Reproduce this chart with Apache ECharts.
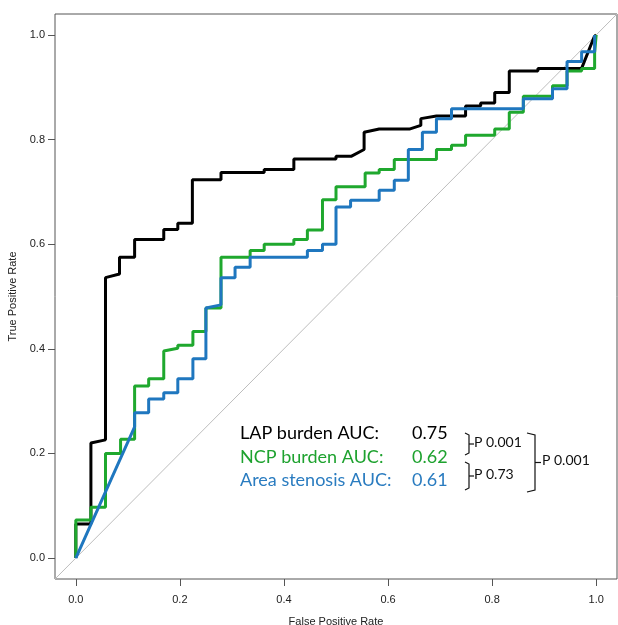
<!DOCTYPE html>
<html>
<head>
<meta charset="utf-8">
<script src="https://cdn.jsdelivr.net/npm/echarts@6/dist/echarts.min.js"></script>
<style>
  html, body { margin: 0; padding: 0; background: #fff; }
  #chart { width: 618px; height: 625px; }
</style>
</head>
<body>
<div id="chart"></div>
<script>
// ROC curve vertices (false positive rate, true positive rate)
const lapFpr = [0, 0, 0.029, 0.029, 0.057, 0.057, 0.084, 0.084, 0.113, 0.113, 0.169, 0.169, 0.196, 0.196, 0.224, 0.224, 0.279, 0.279, 0.362, 0.362, 0.419, 0.419, 0.500, 0.500, 0.529, 0.554, 0.554, 0.583, 0.641, 0.663, 0.663, 0.693, 0.749, 0.749, 0.778, 0.778, 0.805, 0.805, 0.833, 0.833, 0.888, 0.888, 0.972, 0.996, 1];
const lapTpr = [0, 0.065, 0.065, 0.220, 0.226, 0.536, 0.543, 0.575, 0.575, 0.609, 0.609, 0.628, 0.628, 0.640, 0.640, 0.723, 0.723, 0.737, 0.737, 0.743, 0.743, 0.763, 0.763, 0.768, 0.768, 0.781, 0.814, 0.820, 0.820, 0.827, 0.840, 0.845, 0.845, 0.864, 0.864, 0.870, 0.870, 0.890, 0.890, 0.931, 0.931, 0.936, 0.936, 0.996, 1];

const ncpFpr = [0, 0, 0.029, 0.029, 0.057, 0.057, 0.086, 0.086, 0.113, 0.113, 0.140, 0.140, 0.169, 0.169, 0.196, 0.196, 0.225, 0.225, 0.250, 0.250, 0.279, 0.279, 0.335, 0.335, 0.362, 0.362, 0.419, 0.419, 0.445, 0.445, 0.474, 0.474, 0.500, 0.500, 0.556, 0.556, 0.583, 0.583, 0.612, 0.612, 0.693, 0.693, 0.722, 0.722, 0.749, 0.749, 0.805, 0.805, 0.833, 0.833, 0.860, 0.860, 0.916, 0.916, 0.944, 0.944, 0.972, 0.972, 0.997, 0.997, 1];
const ncpTpr = [0, 0.073, 0.073, 0.097, 0.097, 0.200, 0.200, 0.227, 0.227, 0.329, 0.329, 0.343, 0.343, 0.396, 0.401, 0.407, 0.407, 0.433, 0.433, 0.478, 0.478, 0.575, 0.575, 0.588, 0.588, 0.600, 0.600, 0.609, 0.609, 0.627, 0.627, 0.685, 0.685, 0.710, 0.710, 0.736, 0.736, 0.743, 0.743, 0.762, 0.762, 0.781, 0.781, 0.789, 0.789, 0.808, 0.808, 0.820, 0.820, 0.852, 0.852, 0.883, 0.883, 0.903, 0.903, 0.931, 0.931, 0.936, 0.936, 0.966, 1];

const stenFpr = [0, 0.113, 0.113, 0.140, 0.140, 0.169, 0.169, 0.196, 0.196, 0.225, 0.225, 0.250, 0.250, 0.279, 0.279, 0.306, 0.306, 0.335, 0.335, 0.445, 0.445, 0.474, 0.474, 0.500, 0.500, 0.528, 0.528, 0.583, 0.583, 0.612, 0.612, 0.639, 0.639, 0.666, 0.666, 0.693, 0.693, 0.722, 0.722, 0.860, 0.860, 0.916, 0.916, 0.944, 0.944, 0.972, 0.972, 0.997, 0.997];
const stenTpr = [0, 0.251, 0.278, 0.278, 0.304, 0.304, 0.316, 0.316, 0.343, 0.343, 0.381, 0.381, 0.478, 0.484, 0.536, 0.536, 0.556, 0.556, 0.575, 0.575, 0.588, 0.588, 0.600, 0.600, 0.671, 0.671, 0.684, 0.684, 0.703, 0.703, 0.722, 0.722, 0.781, 0.781, 0.814, 0.814, 0.840, 0.840, 0.859, 0.859, 0.878, 0.878, 0.897, 0.897, 0.949, 0.949, 0.968, 0.968, 1.0];

const tickValues = [0, 0.2, 0.4, 0.6, 0.8, 1.0];
const diagonal = [-0.04, 1.04];

const legendNames = ['LAP burden AUC:', 'NCP burden AUC:', 'Area stenosis AUC:'];
const aucValues = ['0.75', '0.62', '0.61'];
const pairP = ['P 0.001', 'P 0.73'];
const outerP = 'P 0.001';

const colors = ['#000000', '#1fa82e', '#1f77bf'];
const textColors = ['#000000', '#1ea22f', '#2a7cc0'];

function zip(xs, ys) {
  return xs.map((x, i) => [x, ys[i]]);
}

const chart = echarts.init(document.getElementById('chart'));

const labelFont = 'Liberation Sans, Arial, sans-serif';
const legendFont = 'Lato, "Open Sans", sans-serif';

function axisCommon(name, gap) {
  return {
    type: 'value',
    min: -0.04,
    max: 1.04,
    name: name,
    nameLocation: 'middle',
    nameGap: gap,
    nameTextStyle: { fontFamily: labelFont, fontSize: 11, color: '#222' },
    axisLine: { show: false, onZero: false },
    splitLine: { show: false },
    axisTick: {
      show: true, inside: false, length: 7,
      customValues: tickValues,
      lineStyle: { color: '#555', width: 1 }
    },
    axisLabel: {
      customValues: tickValues,
      formatter: v => v.toFixed(1),
      fontFamily: labelFont, fontSize: 11, color: '#222'
    }
  };
}

const xAxis = axisCommon('False Positive Rate', 37);
xAxis.axisLabel.margin = 15;
const yAxis = axisCommon('True Positive Rate', 34);
yAxis.axisLabel.margin = 10;

// legend rows and bracket annotations
const rowY = [435, 459, 482];
const graphics = [];
legendNames.forEach((n, i) => {
  graphics.push({
    type: 'text', left: 240, top: rowY[i] - 11,
    style: { text: n, fill: textColors[i], font: '18px ' + legendFont }
  });
  graphics.push({
    type: 'text', left: 412, top: rowY[i] - 11,
    style: { text: aucValues[i], fill: textColors[i], font: '18px ' + legendFont }
  });
});

function bracket(top, bottom, xl, xr, tick) {
  const mid = (top + bottom) / 2;
  return [
    { type: 'polyline', shape: { points: [[xl, top], [xr, top + 2], [xr, bottom - 2], [xl, bottom]] },
      style: { stroke: '#111', lineWidth: 1.2, fill: null } },
    { type: 'line', shape: { x1: xr, y1: mid, x2: xr + tick, y2: mid },
      style: { stroke: '#111', lineWidth: 1.2 } }
  ];
}
graphics.push(...bracket(433, 455, 465, 469, 5));
graphics.push(...bracket(462, 490, 465, 469, 5));
graphics.push(...bracket(433, 492, 527, 535, 6));
graphics.push({ type: 'text', left: 474, top: 435,
  style: { text: pairP[0], fill: '#111', font: '14px ' + legendFont } });
graphics.push({ type: 'text', left: 474, top: 467,
  style: { text: pairP[1], fill: '#111', font: '14px ' + legendFont } });
graphics.push({ type: 'text', left: 542, top: 453,
  style: { text: outerP, fill: '#111', font: '14px ' + legendFont } });

const option = {
  animation: false,
  backgroundColor: '#fff',
  grid: {
    left: 55, right: 1, top: 14, bottom: 46,
    outerBoundsMode: 'none',
    show: true, borderColor: '#555', borderWidth: 1, backgroundColor: 'transparent'
  },
  xAxis: xAxis,
  yAxis: yAxis,
  series: [
    {
      type: 'line', data: zip(diagonal, diagonal), showSymbol: false,
      lineStyle: { color: '#bdbdbd', width: 1 }, silent: true, z: 1
    },
    {
      name: 'LAP burden', type: 'line', data: zip(lapFpr, lapTpr), showSymbol: false,
      lineStyle: { color: colors[0], width: 3 }, z: 2
    },
    {
      name: 'NCP burden', type: 'line', data: zip(ncpFpr, ncpTpr), showSymbol: false,
      lineStyle: { color: colors[1], width: 3 }, z: 3
    },
    {
      name: 'Area stenosis', type: 'line', data: zip(stenFpr, stenTpr), showSymbol: false,
      lineStyle: { color: colors[2], width: 3 }, z: 4
    }
  ],
  graphic: graphics
};

chart.setOption(option);
</script>
</body>
</html>
